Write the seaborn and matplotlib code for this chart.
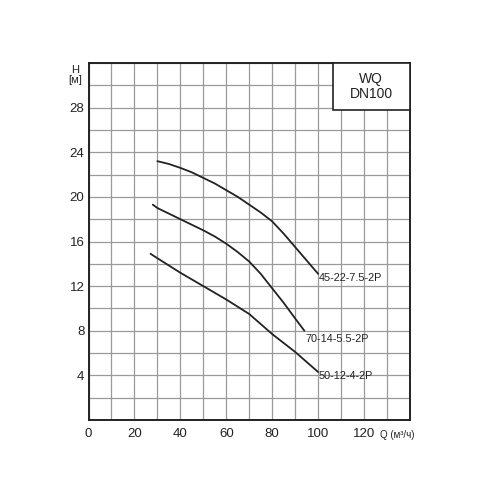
import matplotlib
matplotlib.use("Agg")
import matplotlib.pyplot as plt
from matplotlib.patches import Rectangle
import numpy as np
import pandas as pd
import seaborn as sns

# curve data, Q in m3/h, H in m
q_45 = [30, 35, 40, 45, 50, 55, 60, 65, 70, 75, 80, 85, 90, 95, 100]
h_45 = [23.2, 22.95, 22.6, 22.2, 21.7, 21.2, 20.6, 20.0, 19.3, 18.6, 17.8, 16.7, 15.5, 14.3, 13.1]
q_70 = [28, 30, 35, 40, 45, 50, 55, 60, 65, 70, 75, 80, 85, 90, 94]
h_70 = [19.3, 19.0, 18.5, 18.0, 17.5, 17.0, 16.45, 15.8, 15.05, 14.2, 13.1, 11.8, 10.5, 9.1, 8.0]
q_50 = [27, 30, 35, 40, 45, 50, 55, 60, 65, 70, 75, 80, 85, 90, 95, 100]
h_50 = [14.9, 14.5, 13.85, 13.2, 12.6, 12.0, 11.4, 10.8, 10.15, 9.5, 8.6, 7.7, 6.9, 6.1, 5.2, 4.3]
names = ["45-22-7.5-2P", "70-14-5.5-2P", "50-12-4-2P"]
label_dy = [-0.4, -0.75, -0.35]

x_ticks = [0, 20, 40, 60, 80, 100, 120]
y_ticks = [4, 8, 12, 16, 20, 24, 28]

df = pd.concat([
    pd.DataFrame({"Q": q_45, "H": h_45, "pump": names[0]}),
    pd.DataFrame({"Q": q_70, "H": h_70, "pump": names[1]}),
    pd.DataFrame({"Q": q_50, "H": h_50, "pump": names[2]}),
])

sns.set_style("white")
plt.rcParams["font.family"] = ["Liberation Sans", "DejaVu Sans"]

fig = plt.figure(figsize=(5, 5), dpi=100)
ax = fig.add_axes([0.177, 0.16, 0.643, 0.714])

sns.lineplot(data=df, x="Q", y="H", units="pump", estimator=None,
             color="#222222", lw=1.3, sort=False, ax=ax, legend=False)

# labels at the end of each curve
for q, h, name, dy in zip([q_45, q_70, q_50], [h_45, h_70, h_50], names, label_dy):
    ax.text(q[-1] + 0.3, h[-1] + dy, name, fontsize=7.8, color="#222222",
            ha="left", va="center")

ax.set_xlim(0, 140)
ax.set_ylim(0, 32)
ax.set_xticks(np.arange(0, 141, 10))
ax.set_yticks(np.arange(0, 33, 2))
ax.set_xticklabels([str(t) if t in x_ticks else "" for t in range(0, 141, 10)])
ax.set_yticklabels([str(t) if t in y_ticks else "" for t in range(0, 33, 2)])
ax.tick_params(length=0, labelsize=9.5, colors="#222222")
ax.tick_params(axis="x", pad=6)
ax.tick_params(axis="y", pad=3)
ax.grid(True, color="#9a9a9a", lw=0.9)
ax.set_axisbelow(True)
for s in ax.spines.values():
    s.set_color("#222222")
    s.set_linewidth(1.4)
ax.set_xlabel("")
ax.set_ylabel("")

# title box in the upper right corner
ax.add_patch(Rectangle((106.5, 27.8), 33.5, 4.2, facecolor="white",
                       edgecolor="#222222", lw=1.2, zorder=3, clip_on=False))
ax.text(123.0, 29.9, "WQ\nDN100", ha="center", va="center", fontsize=10,
        color="#222222", zorder=4, linespacing=1.1)

ax.text(-5.8, 30.9, "H\n[м]", ha="center", va="center", fontsize=8,
        color="#222222", linespacing=1.0)
ax.text(134.4, -1.35, "Q (м³/ч)", ha="center", va="center", fontsize=7,
        color="#222222")

plt.savefig("out.png", dpi=100)
plt.close()
